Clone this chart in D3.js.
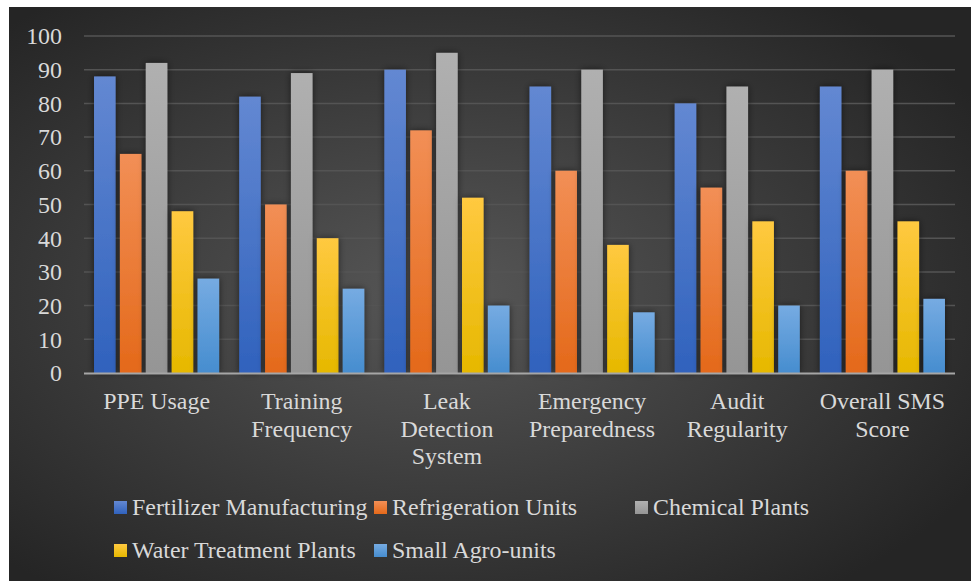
<!DOCTYPE html>
<html><head><meta charset="utf-8">
<script src="https://cdn.jsdelivr.net/npm/d3@7"></script>
<style>html,body{margin:0;padding:0;background:#fff;}svg{display:block;}text{font-family:'Liberation Serif','Times New Roman',serif;}</style>
</head><body>
<script>
const categories = [["PPE Usage"],["Training","Frequency"],["Leak","Detection","System"],["Emergency","Preparedness"],["Audit","Regularity"],["Overall SMS","Score"]];
const seriesNames = ["Fertilizer Manufacturing","Refrigeration Units","Chemical Plants","Water Treatment Plants","Small Agro-units"];
const fertilizer = [88,82,90,85,80,85];
const refrigeration = [65,50,72,60,55,60];
const chemical = [92,89,95,90,85,90];
const water = [48,40,52,38,45,45];
const smallAgro = [28,25,20,18,20,22];
const yTicks = [0,10,20,30,40,50,60,70,80,90,100];
const seriesValues = [fertilizer, refrigeration, chemical, water, smallAgro];
const colorsTop = ["#6388d2","#f28f56","#b0b0b0","#ffc940","#76abe2"];
const colorsBot = ["#3062bd","#e4691a","#959595","#e6b800","#468dcf"];

const W = 971, H = 581;
const svg = d3.select("body").append("svg").attr("width", W).attr("height", H);
const defs = svg.append("defs");
const bg = defs.append("radialGradient").attr("id","bg").attr("cx","45%").attr("cy","50%").attr("r","65%");
bg.append("stop").attr("offset","0%").attr("stop-color","#575757");
bg.append("stop").attr("offset","100%").attr("stop-color","#252525");
seriesNames.forEach((s,i)=>{
  const g = defs.append("linearGradient").attr("id","g"+i).attr("x1",0).attr("y1",0).attr("x2",0).attr("y2",1);
  g.append("stop").attr("offset","0%").attr("stop-color",colorsTop[i]);
  g.append("stop").attr("offset","100%").attr("stop-color",colorsBot[i]);
});
const f = defs.append("filter").attr("id","sh").attr("x","-50%").attr("y","-20%").attr("width","200%").attr("height","140%");
f.append("feDropShadow").attr("dx",0).attr("dy",0).attr("stdDeviation",3.5).attr("flood-color","#000").attr("flood-opacity",0.55);

svg.append("rect").attr("x",9).attr("y",7).attr("width",W-9).attr("height",H-7).attr("fill","url(#bg)");

const pLeft = 84, pRight = 955, pTop = 36, pBottom = 373;
const y = d3.scaleLinear().domain([0,100]).range([pBottom, pTop]);
const x0 = d3.scaleBand().domain(d3.range(categories.length)).range([pLeft,pRight]).paddingInner(0).paddingOuter(0);
const cw = x0.bandwidth();
const bw = cw / 6.73;
const x1 = d3.scaleBand().domain(d3.range(seriesNames.length)).range([0.465*bw, cw-0.465*bw]).paddingInner(0.2/1.2).paddingOuter(0);

const grid = svg.append("g");
grid.selectAll("line").data(yTicks.filter(d=>d>0)).enter().append("line")
  .attr("x1",pLeft).attr("x2",pRight).attr("y1",d=>y(d)).attr("y2",d=>y(d))
  .attr("stroke","#545454").attr("stroke-width",1.5);

const yAxis = d3.axisLeft(y).tickValues(yTicks).tickSize(0).tickPadding(0);
const ya = svg.append("g").attr("transform",`translate(62,0)`).call(yAxis);
ya.attr("font-family",null).attr("font-size",null);
ya.select(".domain").remove();
ya.selectAll("text").attr("fill","#d9d9d9").style("font-family","'Liberation Serif','Times New Roman',serif").style("font-size","23.9px").attr("dy","0.33em");

const groups = svg.append("g").selectAll("g").data(categories).enter().append("g")
  .attr("transform",(d,i)=>`translate(${x0(i)},0)`);
groups.selectAll("rect").data((d,i)=>seriesValues.map((s,j)=>({j, v:s[i]}))).enter().append("rect")
  .attr("x",d=>x1(d.j)).attr("width",x1.bandwidth())
  .attr("y",d=>y(d.v)).attr("height",d=>y(0)-y(d.v))
  .attr("fill",d=>`url(#g${d.j})`).attr("filter","url(#sh)");

svg.append("line").attr("x1",pLeft).attr("x2",pRight).attr("y1",pBottom+0.5).attr("y2",pBottom+0.5)
  .attr("stroke","#a6a6a6").attr("stroke-width",2);

const xl = svg.append("g");
categories.forEach((lines,i)=>{
  const t = xl.append("text").attr("x", x0(i)+cw/2).attr("y",409).attr("text-anchor","middle")
    .attr("fill","#d9d9d9").style("font-size","23.9px");
  lines.forEach((l,k)=>t.append("tspan").attr("x",x0(i)+cw/2).attr("y",409+k*27.5).text(l));
});

const legPos = [[114,501],[374,501],[635,501],[114,544],[374,544]];
const lg = svg.append("g");
seriesNames.forEach((s,i)=>{
  const [lx,ly] = legPos[i];
  lg.append("rect").attr("x",lx).attr("y",ly).attr("width",13).attr("height",13).attr("fill",`url(#g${i})`);
  lg.append("text").attr("x",lx+18).attr("y",ly+14).attr("fill","#d9d9d9")
    .style("font-size","23.9px").text(s);
});
</script>
</body></html>
